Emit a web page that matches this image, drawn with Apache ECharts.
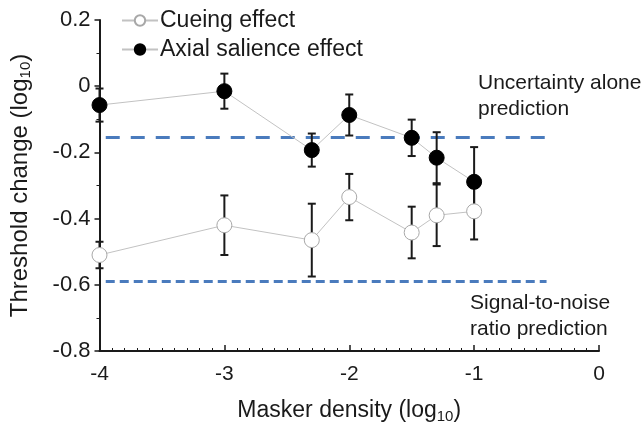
<!DOCTYPE html>
<html>
<head>
<meta charset="utf-8">
<script src="https://cdn.jsdelivr.net/npm/echarts@6/dist/echarts.min.js"></script>
<style>
  html, body { margin: 0; padding: 0; background: #fff; }
  #chart { width: 644px; height: 429px; }
</style>
</head>
<body>
<div id="chart"></div>
<script>
// masker density, log10
const maskerDensity = [-4, -3, -2.3, -2, -1.5, -1.3, -1];

// threshold change, log10
const axialMean = [-0.057, -0.015, -0.193, -0.087, -0.156, -0.216, -0.289];
const axialErr  = [0.05, 0.053, 0.05, 0.062, 0.055, 0.077, 0.105];
const cueMean   = [-0.51, -0.42, -0.465, -0.335, -0.442, -0.39, -0.378];
const cueErr    = [0.04, 0.09, 0.11, 0.07, 0.078, 0.093, 0.085];

// model predictions
const uncertaintyLevel = -0.155;
const snrLevel = -0.59;
const predictionSpan = [-3.95, -0.42];

const yTicks = [-0.8, -0.6, -0.4, -0.2, 0, 0.2];

const font = '"Liberation Sans", Arial, sans-serif';
const ink = '#1a1a1a';
const blue = '#4a7bbd';

const myChart = echarts.init(document.getElementById('chart'));

function errorSeries(name, means, errs) {
  return {
    name: name,
    type: 'custom',
    silent: true,
    z: 2,
    data: maskerDensity.map((x, i) => [x, means[i] - errs[i], means[i] + errs[i]]),
    renderItem: function (params, api) {
      const lo = api.coord([api.value(0), api.value(1)]);
      const hi = api.coord([api.value(0), api.value(2)]);
      const cap = 4;
      const style = { stroke: ink, lineWidth: 2 };
      return {
        type: 'group',
        children: [
          { type: 'line', shape: { x1: lo[0], y1: lo[1], x2: hi[0], y2: hi[1] }, style: style },
          { type: 'line', shape: { x1: lo[0] - cap, y1: lo[1], x2: lo[0] + cap, y2: lo[1] }, style: style },
          { type: 'line', shape: { x1: hi[0] - cap, y1: hi[1], x2: hi[0] + cap, y2: hi[1] }, style: style }
        ]
      };
    }
  };
}

function predictionLine(level, dash) {
  return {
    type: 'line',
    silent: true,
    symbol: 'none',
    z: 1,
    lineStyle: { color: blue, width: 3, type: dash },
    data: predictionSpan.map(x => [x, level])
  };
}

const option = {
  animation: false,
  backgroundColor: '#fff',
  textStyle: { fontFamily: font, color: ink },
  grid: { left: 96, right: 45, top: 20, bottom: 76 },
  legend: {
    orient: 'vertical',
    left: 116,
    top: 4,
    itemWidth: 36,
    itemHeight: 13,
    itemGap: 6,
    data: ['Cueing effect', 'Axial salience effect'],
    textStyle: { fontSize: 23, color: ink, fontFamily: font, padding: [0, 0, 0, -3] }
  },
  xAxis: {
    type: 'value',
    min: -4,
    max: 0,
    interval: 1,
    name: 'Masker density (log{sub|10})',
    nameLocation: 'middle',
    nameGap: 46,
    nameTextStyle: {
      fontSize: 23, color: ink, fontFamily: font,
      rich: { sub: { fontSize: 15, padding: [12, 0, 0, 0], fontFamily: font, color: ink } }
    },
    axisLine: { show: true, onZero: false, lineStyle: { color: ink, width: 2 } },
    axisTick: { show: true, inside: true, length: 6, lineStyle: { color: ink, width: 1.5 } },
    minorTick: { show: true, splitNumber: 10, length: 3, lineStyle: { color: ink, width: 1 } },
    axisLabel: { fontSize: 21, color: ink, margin: 13, fontFamily: font },
    splitLine: { show: false }
  },
  yAxis: {
    type: 'value',
    min: -0.8,
    max: 0.2,
    interval: 0.2,
    name: 'Threshold change (log{sub|10})',
    nameLocation: 'middle',
    nameRotate: 90,
    nameGap: 66,
    nameTextStyle: {
      fontSize: 24, color: ink, fontFamily: font,
      rich: { sub: { fontSize: 15, padding: [12, 0, 0, 0], fontFamily: font, color: ink } }
    },
    axisLine: { show: true, onZero: false, lineStyle: { color: ink, width: 2 } },
    axisTick: { show: true, length: 5, lineStyle: { color: ink, width: 1.5 } },
    minorTick: { show: true, splitNumber: 2, length: 3, lineStyle: { color: ink, width: 1 } },
    axisLabel: {
      fontSize: 22, color: ink, margin: 9, fontFamily: font,
      formatter: v => {
        const t = yTicks.find(k => Math.abs(k - v) < 1e-9);
        return t === undefined ? '' : String(Math.round(t * 10) / 10);
      }
    },
    splitLine: { show: false }
  },
  graphic: [
    { type: 'text', left: 478, top: 70, style: { text: 'Uncertainty alone\nprediction', font: '21px ' + font, fill: ink, lineHeight: 26 } },
    { type: 'text', left: 470, top: 290, style: { text: 'Signal-to-noise\nratio prediction', font: '21px ' + font, fill: ink, lineHeight: 26 } }
  ],
  series: [
    predictionLine(uncertaintyLevel, [14, 11]),
    predictionLine(snrLevel, [9, 5]),
    errorSeries('cueErr', cueMean, cueErr),
    errorSeries('axialErr', axialMean, axialErr),
    {
      name: 'Cueing effect',
      type: 'line',
      z: 3,
      symbol: 'circle',
      symbolSize: 15,
      lineStyle: { color: '#c2c2c2', width: 1 },
      itemStyle: { color: '#fff', borderColor: '#a8a8a8', borderWidth: 1 },
      data: maskerDensity.map((x, i) => [x, cueMean[i]])
    },
    {
      name: 'Axial salience effect',
      type: 'line',
      z: 4,
      symbol: 'circle',
      symbolSize: 15,
      lineStyle: { color: '#c2c2c2', width: 1 },
      itemStyle: { color: '#000', borderColor: '#000', borderWidth: 1 },
      data: maskerDensity.map((x, i) => [x, axialMean[i]])
    }
  ]
};

myChart.setOption(option);
</script>
</body>
</html>
